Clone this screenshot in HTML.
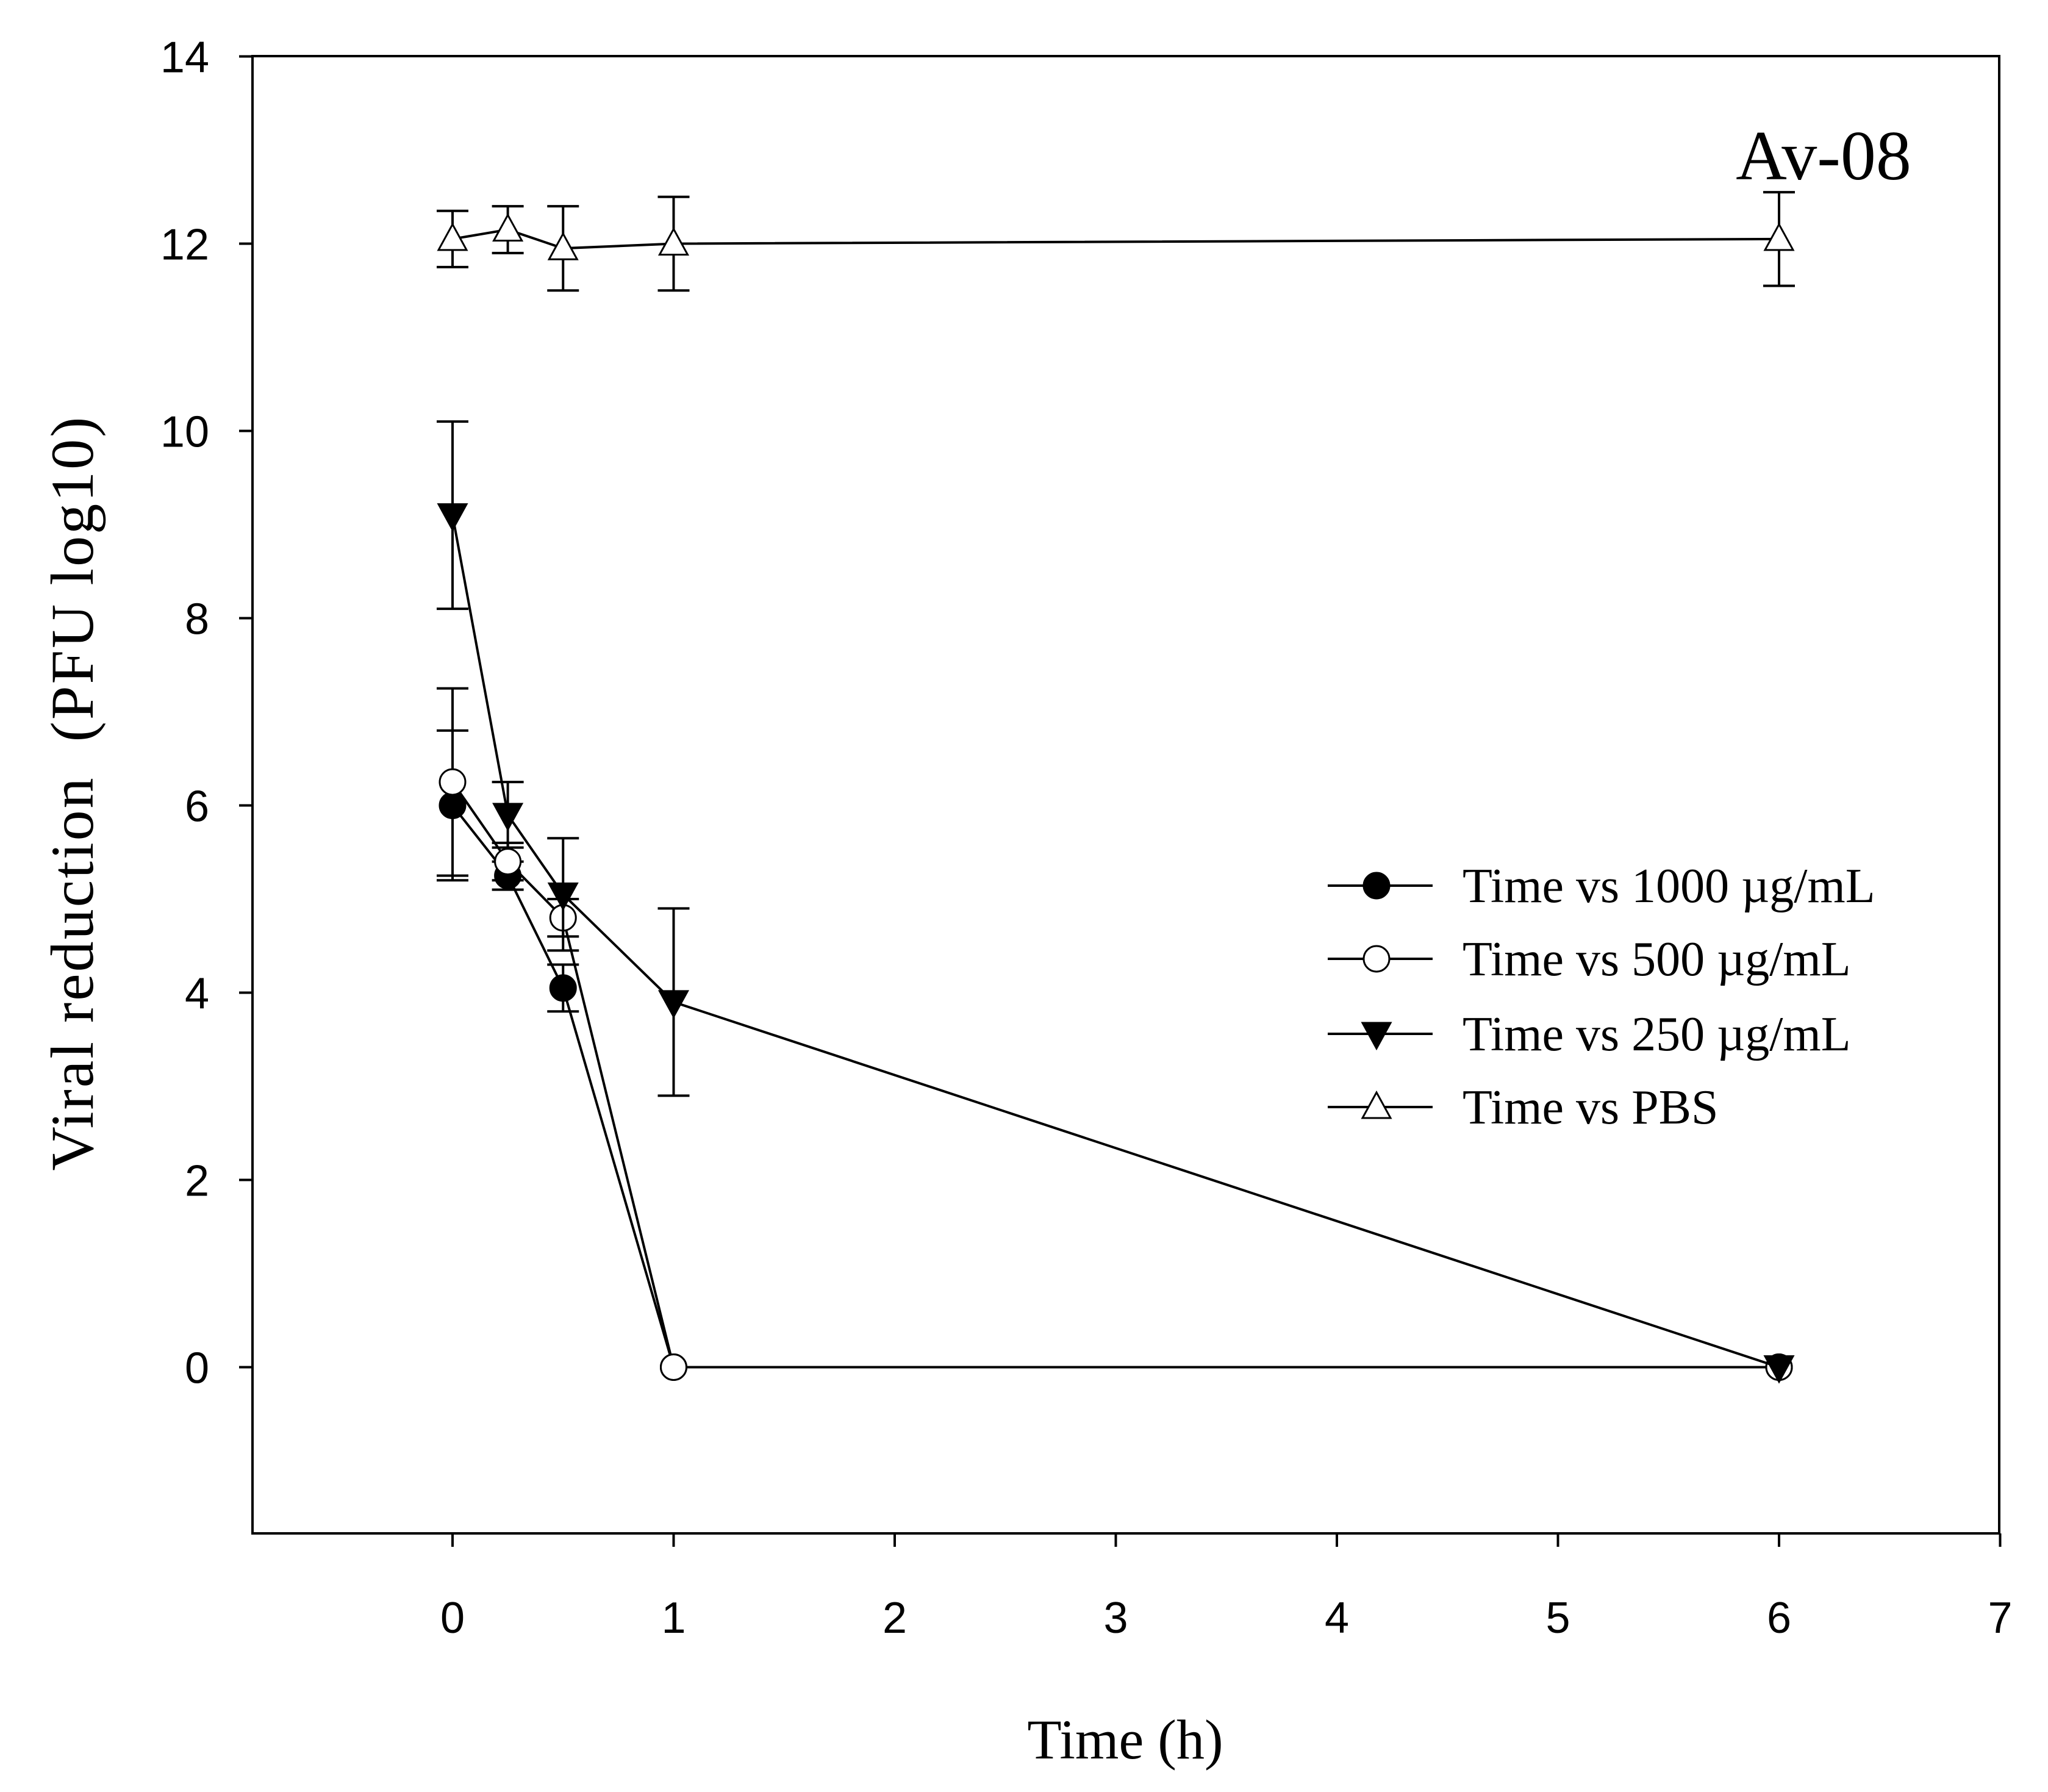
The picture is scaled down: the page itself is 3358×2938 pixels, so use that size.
<!DOCTYPE html>
<html><head><meta charset="utf-8"><style>
html,body{margin:0;padding:0;background:#fff;}
svg{display:block;}
.tk{font-family:"Liberation Sans",Arial,sans-serif;font-size:72px;fill:#000;}
.sf{font-family:"Liberation Serif","Times New Roman",serif;fill:#000;}
</style></head><body>
<svg id="chart" width="3358" height="2938" viewBox="0 0 3358 2938" xmlns="http://www.w3.org/2000/svg">
<rect x="414" y="92" width="2864" height="2422" fill="none" stroke="#000" stroke-width="4"/>
<g id="axes"></g>
<g id="series"></g>
<g id="legend"></g>
<text class="sf" font-size="100" letter-spacing="3" text-anchor="middle" xml:space="preserve" transform="translate(152,1300) rotate(-90)">Viral reduction  (PFU log10)</text>
<text class="sf" font-size="92" text-anchor="middle" x="1845" y="2883">Time (h)</text>
<text class="sf" font-size="116" text-anchor="middle" x="2990" y="294">Av-08</text>
</svg>
<script>
const xTicks=[0,1,2,3,4,5,6,7];
const yTicks=[0,2,4,6,8,10,12,14];
const times=[0,0.25,0.5,1,6];
const s1000=[6.0,5.25,4.05,0,0];
const e1000=[0.8,0.15,0.25,0,0];
const s500=[6.25,5.4,4.8,0,0];
const e500=[1.0,0.2,0.2,0,0];
const s250=[9.1,5.9,5.05,3.9,0];
const e250=[1.0,0.35,0.6,1.0,0];
const sPBS=[12.05,12.15,11.95,12.0,12.05];
const ePBS=[0.3,0.25,0.45,0.5,0.5];
const seriesNames=["Time  vs 1000 µg/mL","Time  vs 500 µg/mL","Time  vs 250 µg/mL","Time  vs PBS"];

const NS="http://www.w3.org/2000/svg";
function X(v){return 742+v*362.5;}
function Y(v){return 2241.5-v*153.5;}
function mk(tag,attrs,parent){const e=document.createElementNS(NS,tag);for(const k in attrs)e.setAttribute(k,attrs[k]);parent.appendChild(e);return e;}
const axes=document.getElementById('axes');
xTicks.forEach(t=>{
  const l=mk('line',{x1:X(t),x2:X(t),y1:2514,y2:2536,stroke:'#000','stroke-width':4},axes);
  
  
  const tx=mk('text',{x:X(t),y:2677,'text-anchor':'middle',class:'tk'},axes);tx.textContent=t;
  
  
});
yTicks.forEach(t=>{
  const l=mk('line',{x1:392,x2:414,y1:Y(t),y2:Y(t),stroke:'#000','stroke-width':4},axes);
  
  
  const tx=mk('text',{x:343,y:Y(t)+26,'text-anchor':'end',class:'tk'},axes);tx.textContent=t;
  
  
});
function marker(type,cx,cy,parent){
  const r=21;
  if(type==='filled-circle')return mk('circle',{cx,cy,r,fill:'#000',stroke:'#000','stroke-width':3},parent);
  if(type==='open-circle')return mk('circle',{cx,cy,r,fill:'#fff',stroke:'#000','stroke-width':3},parent);
  if(type==='down-tri')return mk('polygon',{points:`${cx-23},${cy-18} ${cx+23},${cy-18} ${cx},${cy+24}`,fill:'#000',stroke:'#000','stroke-width':3},parent);
  return mk('polygon',{points:`${cx-23},${cy+18} ${cx+23},${cy+18} ${cx},${cy-24}`,fill:'#fff',stroke:'#000','stroke-width':3},parent);
}
const sg=document.getElementById('series');
const defs=[[sPBS,ePBS,'up-tri','series-pbs'],[s1000,e1000,'filled-circle','series-1000'],[s500,e500,'open-circle','series-500'],[s250,e250,'down-tri','series-250']];
defs.forEach(([vals,errs,type,name])=>{
  const g=mk('g',{},sg);
  
  
  const pts=times.map((t,i)=>X(t)+','+Y(vals[i])).join(' ');
  const pl=mk('polyline',{points:pts,fill:'none',stroke:'#000','stroke-width':4},g);
  
  
  times.forEach((t,i)=>{
    if(errs[i]>0){
      const x=X(t),a=Y(vals[i]+errs[i]),b=Y(vals[i]-errs[i]);
      const eb=mk('path',{d:`M${x},${a}V${b}M${x-26},${a}H${x+26}M${x-26},${b}H${x+26}`,stroke:'#000','stroke-width':4,fill:'none'},g);
      
      
    }
  });
  times.forEach((t,i)=>{
    const m=marker(type,X(t),Y(vals[i]),g);
    
    
  });
});
const lg=document.getElementById('legend');
const ltypes=['filled-circle','open-circle','down-tri','up-tri'];
const rows=[1452,1572,1695,1815];
seriesNames.forEach((n,i)=>{
  const y=rows[i];
  const l=mk('line',{x1:2177,x2:2349,y1:y,y2:y,stroke:'#000','stroke-width':4},lg);
  
  
  const m=marker(ltypes[i],2257,y,lg);
  
  
  const t=mk('text',{x:2398,y:y+27,class:'sf','font-size':80},lg);t.textContent=n;
  
  
});
</script>
</body></html>
